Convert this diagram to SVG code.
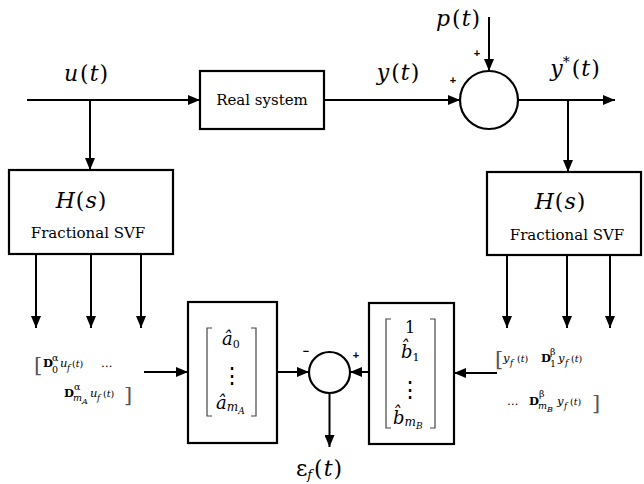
<svg xmlns="http://www.w3.org/2000/svg" width="644" height="484" viewBox="0 0 644 484">
<style>
.ln{stroke:#000;stroke-width:2;fill:none}
.bx{stroke:#000;stroke-width:2.2;fill:#fff}
.br{stroke:#444;stroke-width:1.2;fill:none}
.i{font-style:italic}
.b{font-weight:bold}
.lab{font-size:15px}
.big{font-size:22px}
.sgn{font-family:'Liberation Sans',Arial,sans-serif;font-size:11px;font-weight:bold}
.vd{font-size:22px}
</style>
<defs>
<marker id="ah" markerWidth="12" markerHeight="10" refX="12" refY="5" orient="auto" markerUnits="userSpaceOnUse"><path d="M0,0 L12,5 L0,10 z" fill="#000"/></marker>
</defs>
<rect width="644" height="484" fill="#fff"/>

<g id="connectors">
<line class="ln" x1="27" y1="100" x2="200" y2="100" marker-end="url(#ah)"/>
<line class="ln" x1="90" y1="100" x2="90" y2="170" marker-end="url(#ah)"/>
<line class="ln" x1="324" y1="100" x2="460" y2="100" marker-end="url(#ah)"/>
<line class="ln" x1="489" y1="17" x2="489" y2="71" marker-end="url(#ah)"/>
<line class="ln" x1="518" y1="100" x2="615" y2="100" marker-end="url(#ah)"/>
<line class="ln" x1="568" y1="100" x2="568" y2="172" marker-end="url(#ah)"/>
<line class="ln" x1="36" y1="254" x2="36" y2="328" marker-end="url(#ah)"/>
<line class="ln" x1="91" y1="254" x2="91" y2="328" marker-end="url(#ah)"/>
<line class="ln" x1="141" y1="254" x2="141" y2="328" marker-end="url(#ah)"/>
<line class="ln" x1="507" y1="255" x2="507" y2="328" marker-end="url(#ah)"/>
<line class="ln" x1="567" y1="255" x2="567" y2="328" marker-end="url(#ah)"/>
<line class="ln" x1="610" y1="255" x2="610" y2="328" marker-end="url(#ah)"/>
<line class="ln" x1="144" y1="372" x2="188" y2="372" marker-end="url(#ah)"/>
<line class="ln" x1="277" y1="372" x2="309" y2="372" marker-end="url(#ah)"/>
<line class="ln" x1="369" y1="372" x2="350" y2="372" marker-end="url(#ah)"/>
<line class="ln" x1="497" y1="373" x2="454" y2="373" marker-end="url(#ah)"/>
<line class="ln" x1="329.5" y1="393" x2="329.5" y2="447" marker-end="url(#ah)"/>
</g>

<g font-family="DejaVu Serif, Liberation Serif, serif" fill="#000">

<g id="real-system">
<rect class="bx" x="200" y="71" width="124" height="58"/>
<text class="lab" x="262" y="105" text-anchor="middle">Real system</text>
</g>

<g id="sum-top">
<circle class="bx" cx="489" cy="100" r="29"/>
<text class="sgn" x="477" y="57" text-anchor="middle">+</text>
<text class="sgn" x="453" y="84" text-anchor="middle">+</text>
</g>

<g id="h-left">
<rect class="bx" x="9" y="170" width="164" height="84"/>
<text class="big" x="81" y="208" text-anchor="middle"><tspan class="i">H</tspan><tspan dx="1">(</tspan><tspan class="i" dx="1">s</tspan><tspan dx="1">)</tspan></text>
<text class="lab" x="88" y="238" text-anchor="middle">Fractional SVF</text>
</g>

<g id="h-right">
<rect class="bx" x="487" y="172" width="154" height="83"/>
<text class="big" x="560" y="209" text-anchor="middle"><tspan class="i">H</tspan><tspan dx="1">(</tspan><tspan class="i" dx="1">s</tspan><tspan dx="1">)</tspan></text>
<text class="lab" x="567" y="240" text-anchor="middle">Fractional SVF</text>
</g>

<g id="labels">
<text class="big" x="86" y="81" text-anchor="middle"><tspan class="i">u</tspan><tspan dx="2">(</tspan><tspan class="i" dx="1">t</tspan><tspan dx="1">)</tspan></text>
<text class="big" x="398" y="80" text-anchor="middle"><tspan class="i">y</tspan><tspan dx="2">(</tspan><tspan class="i" dx="1">t</tspan><tspan dx="1">)</tspan></text>
<text class="big" x="458" y="26" text-anchor="middle"><tspan class="i">p</tspan><tspan dx="2">(</tspan><tspan class="i" dx="1">t</tspan><tspan dx="1">)</tspan></text>
<text class="big" x="575" y="76" text-anchor="middle"><tspan class="i">y</tspan><tspan font-size="14" dy="-9">*</tspan><tspan dy="9" dx="2">(</tspan><tspan class="i" dx="1">t</tspan><tspan dx="1">)</tspan></text>
</g>

<g id="vec-u">
<text font-size="11.5"><tspan x="34" y="372" font-size="21" fill="#555">[</tspan><tspan x="43" y="367" class="b">D</tspan><tspan x="52" y="361" font-size="9.5">α</tspan><tspan x="52" y="373" font-size="9.5">0</tspan><tspan x="60" y="367" class="i">u</tspan><tspan x="67" y="371" class="i" font-size="8.5">f</tspan><tspan x="72" y="367" font-size="9.5">(</tspan><tspan class="i" font-size="9.5">t</tspan><tspan font-size="9.5">)</tspan><tspan x="101" y="367">…</tspan></text>
<text font-size="11.5"><tspan x="64" y="397" class="b">D</tspan><tspan x="74" y="390" font-size="9.5">α</tspan><tspan x="73" y="401" font-size="9.5" class="i">m</tspan><tspan font-size="8" dy="3" class="i">A</tspan><tspan x="90" y="397" class="i">u</tspan><tspan x="97" y="401" class="i" font-size="8.5">f</tspan><tspan x="103" y="397" font-size="9.5">(</tspan><tspan class="i" font-size="9.5">t</tspan><tspan font-size="9.5">)</tspan><tspan x="124" y="402" font-size="21" fill="#555">]</tspan></text>
</g>

<g id="vec-y">
<text font-size="11.5"><tspan x="495" y="366" font-size="21" fill="#555">[</tspan><tspan x="503" y="362" class="i">y</tspan><tspan x="510" y="366" class="i" font-size="8.5">f</tspan><tspan x="517" y="362" font-size="9.5">(</tspan><tspan class="i" font-size="9.5">t</tspan><tspan font-size="9.5">)</tspan><tspan x="541" y="362" class="b">D</tspan><tspan x="550" y="355" font-size="9.5">β</tspan><tspan x="550" y="367" font-size="9.5">1</tspan><tspan x="558" y="362" class="i">y</tspan><tspan x="565" y="366" class="i" font-size="8.5">f</tspan><tspan x="571" y="362" font-size="9.5">(</tspan><tspan class="i" font-size="9.5">t</tspan><tspan font-size="9.5">)</tspan></text>
<text font-size="11.5"><tspan x="507" y="405">…</tspan><tspan x="529" y="405" class="b">D</tspan><tspan x="539" y="397" font-size="9.5">β</tspan><tspan x="538" y="409" font-size="9.5" class="i">m</tspan><tspan font-size="8" dy="3" class="i">B</tspan><tspan x="557" y="405" class="i">y</tspan><tspan x="564" y="409" class="i" font-size="8.5">f</tspan><tspan x="570" y="405" font-size="9.5">(</tspan><tspan class="i" font-size="9.5">t</tspan><tspan font-size="9.5">)</tspan><tspan x="592" y="410" font-size="21" fill="#555">]</tspan></text>
</g>

<g id="matrix-a">
<rect class="bx" x="188" y="302" width="89" height="141"/>
<path class="br" d="M212,328 H207 V416 H212 M251,328 H256 V416 H251"/>
<text font-size="18" x="222" y="345"><tspan class="i">â</tspan><tspan font-size="11" dy="3">0</tspan></text>
<text class="vd" x="232" y="383" text-anchor="middle">⋮</text>
<text font-size="18" x="216" y="409"><tspan class="i">â</tspan><tspan font-size="12" dy="2" class="i">m</tspan><tspan font-size="9" dy="3" class="i">A</tspan></text>
</g>

<g id="matrix-b">
<rect class="bx" x="369" y="303" width="85" height="141"/>
<path class="br" d="M391,319 H386 V428 H391 M430,319 H435 V428 H430"/>
<text x="410" y="333" font-size="16" text-anchor="middle">1</text>
<text font-size="18" x="401" y="358"><tspan class="i">b̂</tspan><tspan font-size="11" dy="3">1</tspan></text>
<text class="vd" x="410" y="397" text-anchor="middle">⋮</text>
<text font-size="18" x="393" y="424"><tspan class="i">b̂</tspan><tspan font-size="12" dy="2" class="i">m</tspan><tspan font-size="9" dy="3" class="i">B</tspan></text>
</g>

<g id="sum-bottom">
<circle class="bx" cx="329.5" cy="372.5" r="20.5"/>
<text class="sgn" x="306" y="355" text-anchor="middle">−</text>
<text class="sgn" x="356" y="359" text-anchor="middle">+</text>
</g>

<g id="error">
<text x="319" y="476" font-size="22" text-anchor="middle">ε<tspan class="i" font-size="13" dy="3">f</tspan><tspan dy="-3" dx="2">(</tspan><tspan class="i" dx="1">t</tspan><tspan dx="1">)</tspan></text>
</g>
</g>
</svg>
